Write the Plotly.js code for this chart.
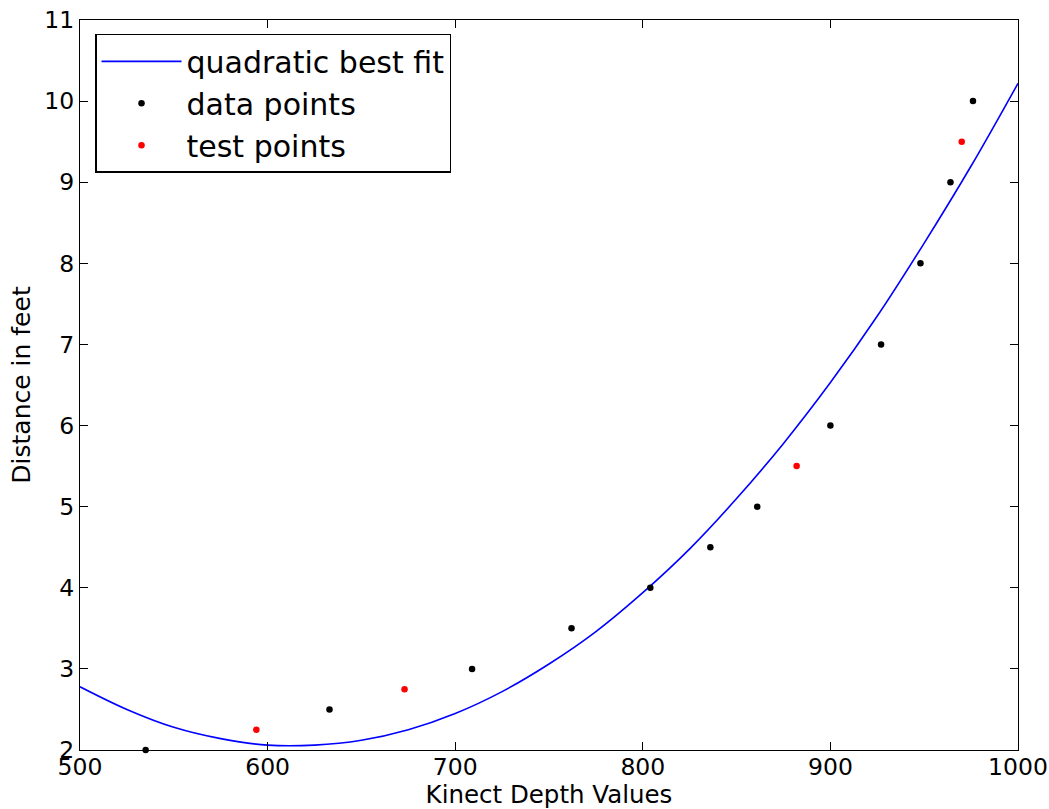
<!DOCTYPE html>
<html>
<head>
<meta charset="utf-8">
<script src="https://cdn.plot.ly/plotly-3.0.1.min.js"></script>
<style>html,body{margin:0;padding:0;background:#fff;}#chart{width:1049px;height:809px;}</style>
</head>
<body>
<div id="chart"></div>
<script>
// Quadratic best-fit curve values
const fitX = [500,525,550,575,600,625,650,675,700,725,750,775,800,825,850,875,900,925,950,975,1000];
const fitY = [2.78,2.50,2.28,2.14,2.06,2.06,2.12,2.25,2.45,2.72,3.06,3.46,3.94,4.48,5.10,5.78,6.53,7.35,8.25,9.20,10.22];

// Data points
const dataX = [535,633,709,762,804,836,861,900,927,948,964,976];
const dataY = [2.0,2.5,3.0,3.5,4.0,4.5,5.0,6.0,7.0,8.0,9.0,10.0];

// Test points
const testX = [594,673,882,970];
const testY = [2.25,2.75,5.5,9.5];

const font = "DejaVu Sans, sans-serif";

const traces = [
  {x: fitX, y: fitY, mode: 'lines', name: 'quadratic best fit', legendgroup: 'a',
   line: {color: '#0000ff', width: 1.6, shape: 'spline'}, cliponaxis: true},
  {x: dataX, y: dataY, mode: 'markers', name: 'data points', legendgroup: 'b',
   marker: {color: '#000000', size: 6.5}, cliponaxis: false},
  {x: testX, y: testY, mode: 'markers', name: 'test points', legendgroup: 'c',
   marker: {color: '#ff0000', size: 6.5}, cliponaxis: false}
];

const axisCommon = {
  showgrid: false, zeroline: false, showline: true, linecolor: '#000', linewidth: 1.2,
  mirror: 'ticks', ticks: 'inside', ticklen: 8, tickwidth: 1, tickcolor: '#000',
  tickfont: {family: font, size: 23.5, color: '#000'}
};

const layout = {
  width: 1049, height: 809,
  margin: {l: 80, r: 31, t: 20, b: 59},
  paper_bgcolor: '#fff', plot_bgcolor: '#fff',
  font: {family: font, color: '#000'},
  xaxis: Object.assign({}, axisCommon, {
    range: [500, 1000], dtick: 100, tick0: 500, automargin: false, ticklabelstandoff: -4,
    title: {text: 'Kinect Depth Values', font: {family: font, size: 24.5, color: '#000'}, standoff: 4}
  }),
  yaxis: Object.assign({}, axisCommon, {
    range: [2, 11], dtick: 1, tick0: 2, automargin: false,
    title: {text: 'Distance in feet', font: {family: font, size: 25, color: '#000'}, standoff: 6}
  }),
  showlegend: true,
  legend: {
    x: 0.016, y: 0.981, xanchor: 'left', yanchor: 'top',
    bgcolor: '#fff', bordercolor: '#000', borderwidth: 1.5,
    font: {family: font, size: 30, color: '#000'},
    itemwidth: 80, tracegroupgap: 0, traceorder: 'grouped'
  }
};

Plotly.newPlot('chart', traces, layout, {displayModeBar: false, staticPlot: true});
</script>
</body>
</html>
